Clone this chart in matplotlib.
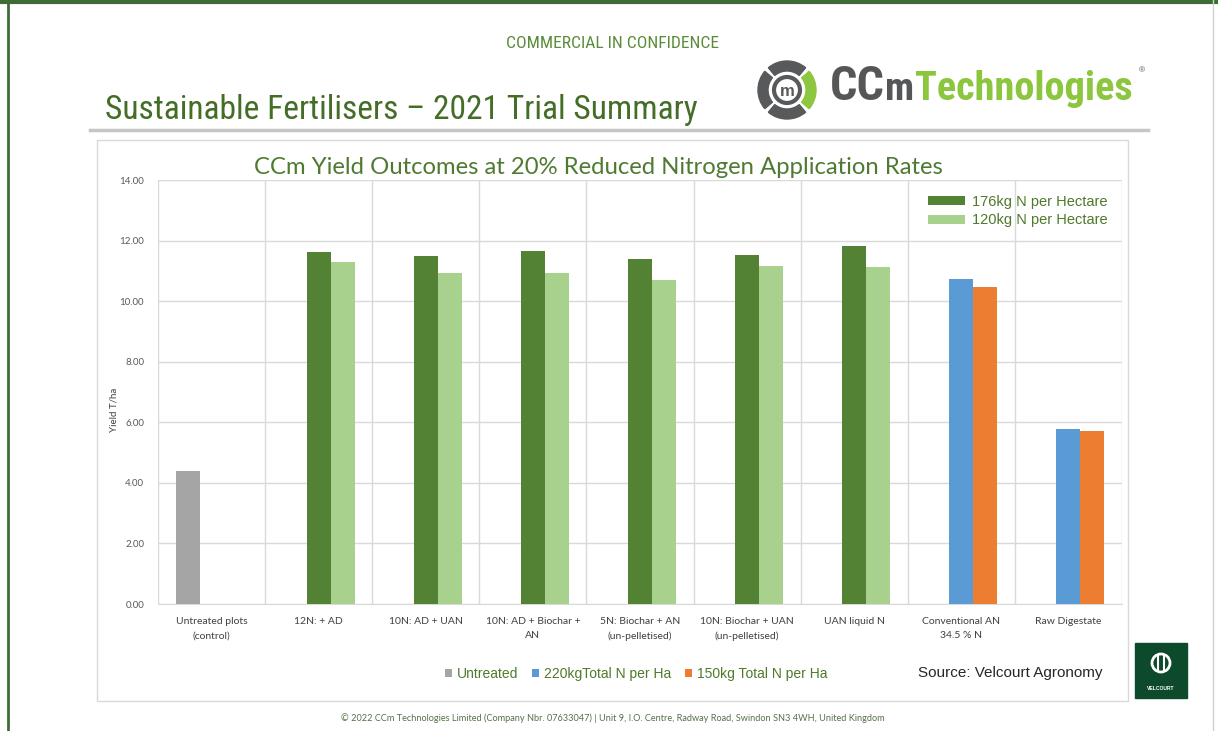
import numpy as np
import matplotlib
matplotlib.use('Agg')
import matplotlib.pyplot as plt
from matplotlib import font_manager
from matplotlib.patches import Rectangle, Circle, Wedge

# chart data
categories = ['Untreated plots\n(control)', '12N: + AD', '10N: AD + UAN',
              '10N: AD + Biochar +\nAN', '5N: Biochar + AN\n(un-pelletised)',
              '10N: Biochar + UAN\n(un-pelletised)', 'UAN liquid N',
              'Conventional AN\n34.5 % N', 'Raw Digestate']
nan = np.nan
untreated = [4.40, nan, nan, nan, nan, nan, nan, nan, nan]
rate_176 = [nan, 11.63, 11.49, 11.66, 11.39, 11.53, 11.82, nan, nan]
rate_120 = [nan, 11.29, 10.94, 10.94, 10.71, 11.17, 11.12, nan, nan]
total_220 = [nan, nan, nan, nan, nan, nan, nan, 10.73, 5.79]
total_150 = [nan, nan, nan, nan, nan, nan, nan, 10.46, 5.70]
yticks = [0, 2, 4, 6, 8, 10, 12, 14]

W, H = 1218, 731
ARIAL = ['Liberation Sans', 'DejaVu Sans']
CALIBRI = ['Lato', 'DejaVu Sans']

# pick a narrow sans for the Arial Narrow headings, if one is installed
fonts = font_manager.fontManager.ttflist
names = {f.name for f in fonts}
NARROW = {'family': ARIAL}
for cand in ('Liberation Sans Narrow', 'Roboto Condensed', 'Open Sans Condensed'):
    if cand in names:
        NARROW = {'family': cand}
        break
else:
    for f in fonts:
        if f.name in ('Roboto', 'Open Sans', 'DejaVu Sans') and 'condensed' in str(f.stretch):
            NARROW = {'family': f.name, 'fontstretch': 'condensed'}
            break

fig = plt.figure(figsize=(W / 100, H / 100), dpi=100)
fig.patch.set_facecolor('white')

# full-figure axes in pixel coordinates for the slide decoration
deco = fig.add_axes([0, 0, 1, 1])
deco.set_xlim(0, W)
deco.set_ylim(H, 0)
deco.axis('off')

renderer = fig.canvas.get_renderer()


def fit(t, width):
    # scale the font so the text spans the given pixel width
    bb = t.get_window_extent(renderer)
    t.set_fontsize(t.get_fontsize() * width / bb.width)
    return t


# slide frame
deco.plot([0, W], [2, 2], color='#3F6B36', lw=3)
deco.plot([8, 8], [0, H], color='#3F6B36', lw=2)
deco.plot([1213, 1213], [0, H], color='#d0d0d0', lw=1)
deco.plot([90, 1148], [130, 130], color='#c6c6c6', lw=2.5)
deco.add_patch(Rectangle((97, 140), 1031, 561, fill=False, ec='#d9d9d9', lw=1))

fit(deco.text(613, 43, 'COMMERCIAL IN CONFIDENCE', ha='center', va='center',
              color='#5B8C3A', fontsize=10, **NARROW), 213)
fit(deco.text(105, 119, 'Sustainable Fertilisers \u2013 2021 Trial Summary',
              ha='left', va='baseline', color='#446E27', fontsize=22, **NARROW), 593)

# CCm logo
cx, cy = 787, 90
for a0, a1, col in ((50, 130, '#58595B'), (140, 220, '#58595B'),
                    (230, 310, '#58595B'), (-40, 40, '#8DC63F')):
    deco.add_patch(Wedge((cx, cy), 29, a0, a1, width=10, color=col))
deco.add_patch(Circle((cx, cy), 13, fill=False, ec='#58595B', lw=3))
deco.text(cx, cy + 1, 'm', ha='center', va='center', color='#58595B',
          family=ARIAL, fontweight='bold', fontsize=12)
fit(deco.text(830, 100, 'CC', ha='left', va='baseline', color='#555658',
              fontweight='bold', fontsize=28, **NARROW), 55)
fit(deco.text(885, 100, 'm', ha='left', va='baseline', color='#555658',
              fontweight='bold', fontsize=20, **NARROW), 29)
fit(deco.text(915, 100, 'Technologies', ha='left', va='baseline',
              color='#8CC63E', fontweight='bold', fontsize=28, **NARROW), 218)
deco.text(1139, 71, '\u00ae', ha='left', va='center', color='#555658',
          family=ARIAL, fontsize=6)

fit(deco.text(598, 167, 'CCm Yield Outcomes at 20% Reduced Nitrogen Application Rates',
              ha='center', va='center', color='#4E7A32', family=CALIBRI,
              fontsize=15), 691)

deco.text(918, 673, 'Source: Velcourt Agronomy', ha='left', va='center',
          color='#262626', family=ARIAL, fontsize=11)

# Velcourt logo
deco.add_patch(Rectangle((1135, 643), 52, 55, color='#0D4A2B'))
deco.add_patch(Circle((1161, 663), 9, fill=False, ec='white', lw=2))
deco.plot([1158, 1158], [656, 670], color='white', lw=1.5)
deco.plot([1164, 1164], [656, 670], color='white', lw=1.5)
deco.text(1161, 689, 'VELCOURT', ha='center', va='center', color='white',
          family=ARIAL, fontweight='bold', fontsize=3.6)

fit(deco.text(613, 718, '\u00a9 2022 CCm Technologies Limited (Company Nbr. 07633047) | '
              'Unit 9, I.O. Centre, Radway Road, Swindon SN3 4WH, United Kingdom',
              ha='center', va='center', color='#55704A', family=CALIBRI,
              fontsize=6), 546)

# chart
ax = fig.add_axes([158 / W, 1 - 604 / H, (1122 - 158) / W, (604 - 180) / H])
ax.set_facecolor('none')
x = np.arange(len(categories))
w = 0.224
b_un = ax.bar(x - w, untreated, w, color='#A5A5A5', label='Untreated', zorder=3)
b176 = ax.bar(x, rate_176, w, color='#548235', label='176kg N per Hectare', zorder=3)
b120 = ax.bar(x + w, rate_120, w, color='#A9D18E', label='120kg N per Hectare', zorder=3)
b220 = ax.bar(x, total_220, w, color='#5B9BD5', label='220kgTotal N per Ha', zorder=3)
b150 = ax.bar(x + w, total_150, w, color='#ED7D31', label='150kg Total N per Ha', zorder=3)

ax.set_xlim(-0.5, len(categories) - 0.5)
ax.set_ylim(0, 14)
ax.set_yticks(yticks)
ax.set_yticklabels(['%.2f' % v for v in yticks], family=CALIBRI, fontsize=7,
                   color='#595959')
ax.set_xticks(x)
ax.set_xticklabels(categories, family=CALIBRI, fontsize=7.5, color='#404040',
                   linespacing=1.8)
ax.set_xticks(np.arange(-0.5, len(categories)), minor=True)
ax.tick_params(axis='both', which='both', length=0)
ax.tick_params(axis='y', pad=10)
ax.tick_params(axis='x', pad=9)
ax.grid(axis='y', which='major', color='#d9d9d9', lw=1, zorder=0)
ax.grid(axis='x', which='minor', color='#d9d9d9', lw=1, zorder=0)
ax.grid(axis='x', which='major', visible=False)
for s in ('top', 'left', 'right'):
    ax.spines[s].set_visible(False)
ax.spines['bottom'].set_color('#d9d9d9')

ax.set_ylabel('Yield T/ha', family=CALIBRI, fontsize=7, color='#404040')
ax.yaxis.set_label_coords(-0.041, (604 - 410) / 424)

leg1 = ax.legend(handles=[b176, b120], loc='upper left',
                 bbox_to_anchor=(928, 195), bbox_transform=deco.transData,
                 frameon=False, prop={'family': ARIAL, 'size': 10.5},
                 labelcolor='#4E7A2A', handlelength=2.55, handleheight=0.55,
                 handletextpad=0.5, labelspacing=0.3, borderpad=0,
                 borderaxespad=0)
ax.add_artist(leg1)
ax.legend(handles=[b_un, b220, b150], loc='center',
          bbox_to_anchor=(636, 674), bbox_transform=deco.transData,
          frameon=False, prop={'family': ARIAL, 'size': 10}, ncol=3,
          labelcolor='#4E7A2A', handlelength=0.5, handleheight=0.5,
          handletextpad=0.35, columnspacing=1.0, borderpad=0, borderaxespad=0)

fig.savefig('out.png', dpi=100)
